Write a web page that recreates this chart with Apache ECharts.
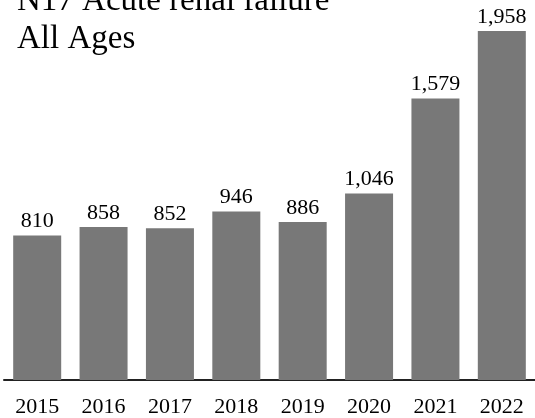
<!DOCTYPE html>
<html>
<head>
<meta charset="utf-8">
<script src="https://cdn.jsdelivr.net/npm/echarts@6/dist/echarts.min.js"></script>
<style>
  html, body { margin: 0; padding: 0; background: #fff; }
  #chart { width: 535px; height: 418px; }
</style>
</head>
<body>
<div id="chart"></div>
<script>
// Yearly counts for N17 Acute renal failure, all ages
const years = ['2015', '2016', '2017', '2018', '2019', '2020', '2021', '2022'];
const counts = [810, 858, 852, 946, 886, 1046, 1579, 1958];
const titleLines = ['N17 Acute renal failure', 'All Ages'];

const serif = "'Liberation Serif', 'Times New Roman', serif";
const chart = echarts.init(document.getElementById('chart'));

chart.setOption({
  animation: false,
  title: {
    text: titleLines.join('\n'),
    left: 17,
    top: -17.5,
    padding: 0,
    textStyle: {
      fontFamily: serif,
      fontSize: 33,
      fontWeight: 'normal',
      lineHeight: 38,
      color: '#000'
    }
  },
  grid: { left: 4, right: -6, top: 31, bottom: 38 },
  xAxis: {
    type: 'category',
    data: years,
    axisTick: { show: false },
    axisLine: { lineStyle: { color: '#222', width: 2 } },
    axisLabel: {
      margin: 16,
      fontFamily: serif,
      fontSize: 22,
      color: '#000'
    }
  },
  yAxis: {
    type: 'value',
    min: 0,
    max: 1958,
    show: false,
    splitLine: { show: false }
  },
  series: [{
    type: 'bar',
    data: counts,
    barWidth: 48,
    itemStyle: { color: '#787878' },
    label: {
      show: true,
      position: 'top',
      distance: 3,
      fontFamily: serif,
      fontSize: 22,
      color: '#000',
      formatter: p => p.value.toLocaleString('en-US')
    }
  }]
});
</script>
</body>
</html>
